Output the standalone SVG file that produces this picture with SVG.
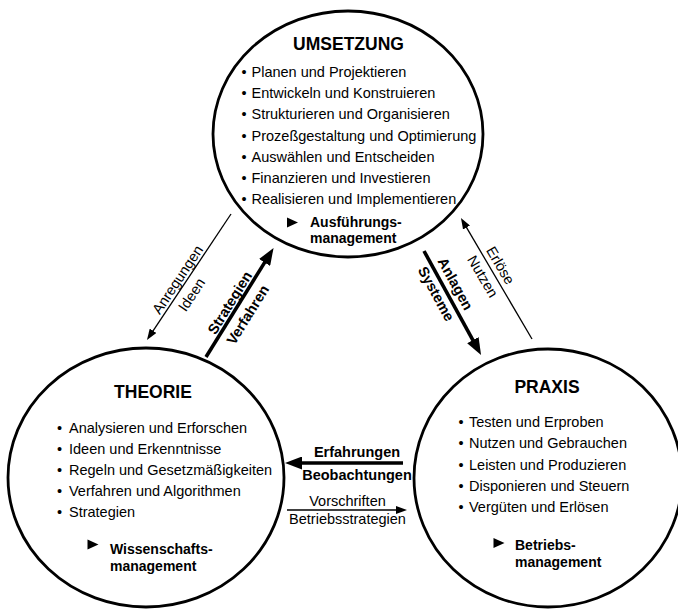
<svg xmlns="http://www.w3.org/2000/svg" width="678" height="610" viewBox="0 0 678 610">
  <style>
    text { font-family: "Liberation Sans", Arial, Helvetica, sans-serif; fill: #000; }
    .title { font-size: 17.5px; font-weight: bold; text-anchor: middle; }
    .item { font-size: 14.5px; }
    .mgmt { font-size: 14px; font-weight: bold; }
    .lbl { font-size: 14.5px; text-anchor: middle; }
    .lblb { font-size: 14.5px; font-weight: bold; text-anchor: middle; }
    .ring { fill: none; stroke: #000; stroke-width: 2.8; }
    .thin { fill: none; stroke: #000; stroke-width: 1.3; marker-end: url(#headThin); }
    .thick { fill: none; stroke: #000; stroke-width: 3.6; marker-end: url(#headThick); }
  </style>
  <defs>
    <marker id="headThick" markerUnits="userSpaceOnUse" markerWidth="17" markerHeight="13" refX="4" refY="6.5" orient="auto">
      <path d="M0,0 L17,6.5 L0,13 Z" fill="#000"/>
    </marker>
    <marker id="headThin" markerUnits="userSpaceOnUse" markerWidth="11" markerHeight="8" refX="3" refY="4" orient="auto">
      <path d="M0,0 L11,4 L0,8 Z" fill="#000"/>
    </marker>
    <path id="tri" d="M0,0 L11,5 L0,10 Z" fill="#000"/>
  </defs>
  <rect width="678" height="610" fill="#fff"/>

  <g id="umsetzung">
    <ellipse class="ring" cx="348" cy="134" rx="135" ry="123"/>
    <text class="title" x="348.5" y="49.5">UMSETZUNG</text>
    <text class="item" y="77"><tspan x="241.5">•</tspan><tspan x="251.5">Planen und Projektieren</tspan></text>
    <text class="item" y="98.2"><tspan x="241.5">•</tspan><tspan x="251.5">Entwickeln und Konstruieren</tspan></text>
    <text class="item" y="119.3"><tspan x="241.5">•</tspan><tspan x="251.5">Strukturieren und Organisieren</tspan></text>
    <text class="item" y="140.5"><tspan x="241.5">•</tspan><tspan x="251.5">Prozeßgestaltung und Optimierung</tspan></text>
    <text class="item" y="161.7"><tspan x="241.5">•</tspan><tspan x="251.5">Auswählen und Entscheiden</tspan></text>
    <text class="item" y="182.8"><tspan x="241.5">•</tspan><tspan x="251.5">Finanzieren und Investieren</tspan></text>
    <text class="item" y="204"><tspan x="241.5">•</tspan><tspan x="251.5">Realisieren und Implementieren</tspan></text>
    <use href="#tri" x="287" y="217.5"/>
    <text class="mgmt" x="310" y="227">Ausführungs-</text>
    <text class="mgmt" x="310" y="243">management</text>
  </g>

  <g id="theorie">
    <ellipse class="ring" cx="146" cy="477.5" rx="138" ry="129.5"/>
    <text class="title" x="153" y="398">THEORIE</text>
    <text class="item" y="433.3"><tspan x="57">•</tspan><tspan x="69">Analysieren und Erforschen</tspan></text>
    <text class="item" y="454.1"><tspan x="57">•</tspan><tspan x="69">Ideen und Erkenntnisse</tspan></text>
    <text class="item" y="474.9"><tspan x="57">•</tspan><tspan x="69">Regeln und Gesetzmäßigkeiten</tspan></text>
    <text class="item" y="495.8"><tspan x="57">•</tspan><tspan x="69">Verfahren und Algorithmen</tspan></text>
    <text class="item" y="516.7"><tspan x="57">•</tspan><tspan x="69">Strategien</tspan></text>
    <use href="#tri" x="87.5" y="539.5"/>
    <text class="mgmt" x="110" y="554">Wissenschafts-</text>
    <text class="mgmt" x="110" y="570.5">management</text>
  </g>

  <g id="praxis">
    <ellipse class="ring" cx="548" cy="478" rx="134" ry="129"/>
    <text class="title" x="547" y="392.7">PRAXIS</text>
    <text class="item" y="427.3"><tspan x="458.5">•</tspan><tspan x="469">Testen und Erproben</tspan></text>
    <text class="item" y="448.4"><tspan x="458.5">•</tspan><tspan x="469">Nutzen und Gebrauchen</tspan></text>
    <text class="item" y="469.5"><tspan x="458.5">•</tspan><tspan x="469">Leisten und Produzieren</tspan></text>
    <text class="item" y="490.6"><tspan x="458.5">•</tspan><tspan x="469">Disponieren und Steuern</tspan></text>
    <text class="item" y="511.7"><tspan x="458.5">•</tspan><tspan x="469">Vergüten und Erlösen</tspan></text>
    <use href="#tri" x="493.5" y="538"/>
    <text class="mgmt" x="515" y="550">Betriebs-</text>
    <text class="mgmt" x="515" y="566.7">management</text>
  </g>

  <g id="connectors">
    <!-- Umsetzung -> Theorie -->
    <line class="thin" x1="231" y1="214" x2="151.4" y2="333.3"/>
    <g transform="translate(189,277) rotate(-56.3)">
      <text class="lbl" x="-8.6" y="-3">Anregungen</text>
      <text class="lbl" x="-13.3" y="17">Ideen</text>
    </g>
    <!-- Theorie -> Umsetzung -->
    <line class="thick" x1="206" y1="357" x2="266.7" y2="259.1"/>
    <g transform="translate(239.75,302.5) rotate(-58.2)">
      <text class="lblb" x="-5.4" y="-3.3">Strategien</text>
      <text class="lblb" x="-6.2" y="18.3">Verfahren</text>
    </g>
    <!-- Umsetzung -> Praxis -->
    <line class="thick" x1="424" y1="251" x2="474.8" y2="343.6"/>
    <g transform="translate(452.5,303) rotate(61.3)">
      <text class="lblb" x="-15.5" y="-6.8">Anlagen</text>
      <text class="lblb" x="-16" y="14.9">Systeme</text>
    </g>
    <!-- Praxis -> Umsetzung -->
    <line class="thin" x1="532" y1="339" x2="465" y2="224.9"/>
    <g transform="translate(496.5,278.5) rotate(59.6)">
      <text class="lbl" x="-9.3" y="-5">Erlöse</text>
      <text class="lbl" x="-8.7" y="15.8">Nutzen</text>
    </g>
    <!-- Praxis -> Theorie -->
    <line class="thick" x1="403" y1="463" x2="298" y2="463"/>
    <text class="lblb" x="357" y="456.5" font-size="14">Erfahrungen</text>
    <text class="lblb" x="357" y="480">Beobachtungen</text>
    <!-- Theorie -> Praxis -->
    <line class="thin" x1="287" y1="510" x2="399" y2="510"/>
    <text class="lbl" x="347.5" y="506">Vorschriften</text>
    <text class="lbl" x="347.5" y="524.3">Betriebsstrategien</text>
  </g>
</svg>
